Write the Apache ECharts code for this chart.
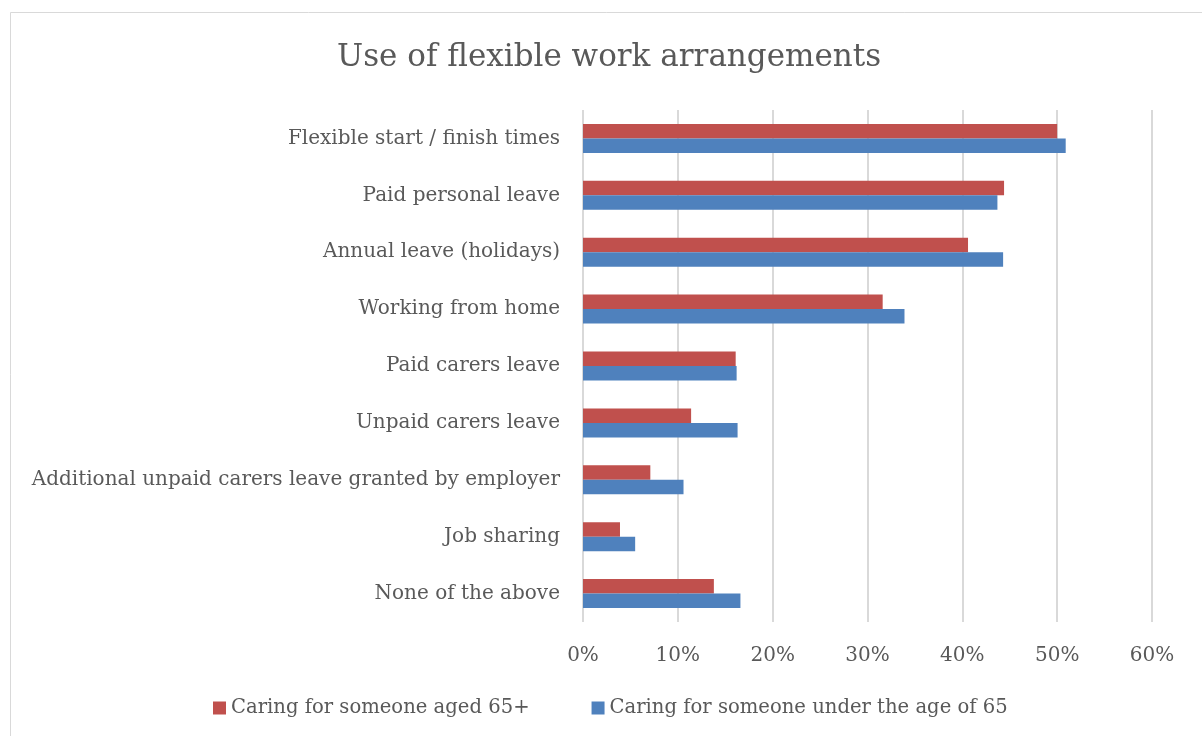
<!DOCTYPE html>
<html>
<head>
<meta charset="utf-8">
<script src="https://cdn.jsdelivr.net/npm/echarts@6/dist/echarts.min.js"></script>
<style>html,body{margin:0;padding:0;background:#fff;}#c{width:1202px;height:736px;}</style>
</head>
<body>
<div id="c"></div>
<script>
const categories = [
  "Flexible start / finish times",
  "Paid personal leave",
  "Annual leave (holidays)",
  "Working from home",
  "Paid carers leave",
  "Unpaid carers leave",
  "Additional unpaid carers leave granted by employer",
  "Job sharing",
  "None of the above"
];
const aged65plus = [50.0, 44.4, 40.6, 31.6, 16.1, 11.4, 7.1, 3.9, 13.8];
const under65 = [50.9, 43.7, 44.3, 33.9, 16.2, 16.3, 10.6, 5.5, 16.6];
const seriesNames = ["Caring for someone aged 65+", "Caring for someone under the age of 65"];
const xTicks = [0, 10, 20, 30, 40, 50, 60];

const FONT = "DejaVu Serif";
const chart = echarts.init(document.getElementById('c'), null, {renderer: 'canvas'});
chart.setOption({
  backgroundColor: '#fff',
  animation: false,
  graphic: [{
    type: 'rect', shape: {x: 10.5, y: 12.5, width: 1200, height: 730},
    style: {fill: 'none', stroke: '#d9d9d9', lineWidth: 1}, silent: true, z: -1
  }],
  title: {
    text: 'Use of flexible work arrangements',
    left: 332, top: 37,
    textStyle: {fontFamily: FONT, fontSize: 31, fontWeight: 'normal', color: '#595959'}
  },
  legend: {
    data: seriesNames,
    left: 208, top: 693,
    itemWidth: 13, itemHeight: 13, itemGap: 62,
    icon: 'rect',
    textStyle: {fontFamily: FONT, fontSize: 19.6, color: '#595959'}
  },
  grid: {left: 583, right: 50, top: 110, bottom: 114, containLabel: false},
  xAxis: {
    type: 'value', min: xTicks[0], max: xTicks[xTicks.length - 1], interval: 10,
    axisLine: {show: false}, axisTick: {show: false},
    splitLine: {lineStyle: {color: '#d9d9d9', width: 2}},
    axisLabel: {formatter: v => v + '%', margin: 24, fontFamily: FONT, fontSize: 20, color: '#595959'}
  },
  yAxis: {
    type: 'category', data: categories, inverse: true,
    axisLine: {show: false}, axisTick: {show: false},
    axisLabel: {margin: 23, fontFamily: FONT, fontSize: 20, color: '#595959'}
  },
  series: [
    {name: seriesNames[0], type: 'bar', data: aged65plus, barGap: '0%', barCategoryGap: '49%',
     itemStyle: {color: '#C0504D'}},
    {name: seriesNames[1], type: 'bar', data: under65, barGap: '0%', barCategoryGap: '49%',
     itemStyle: {color: '#4F81BD'}}
  ]
});
</script>
</body>
</html>
